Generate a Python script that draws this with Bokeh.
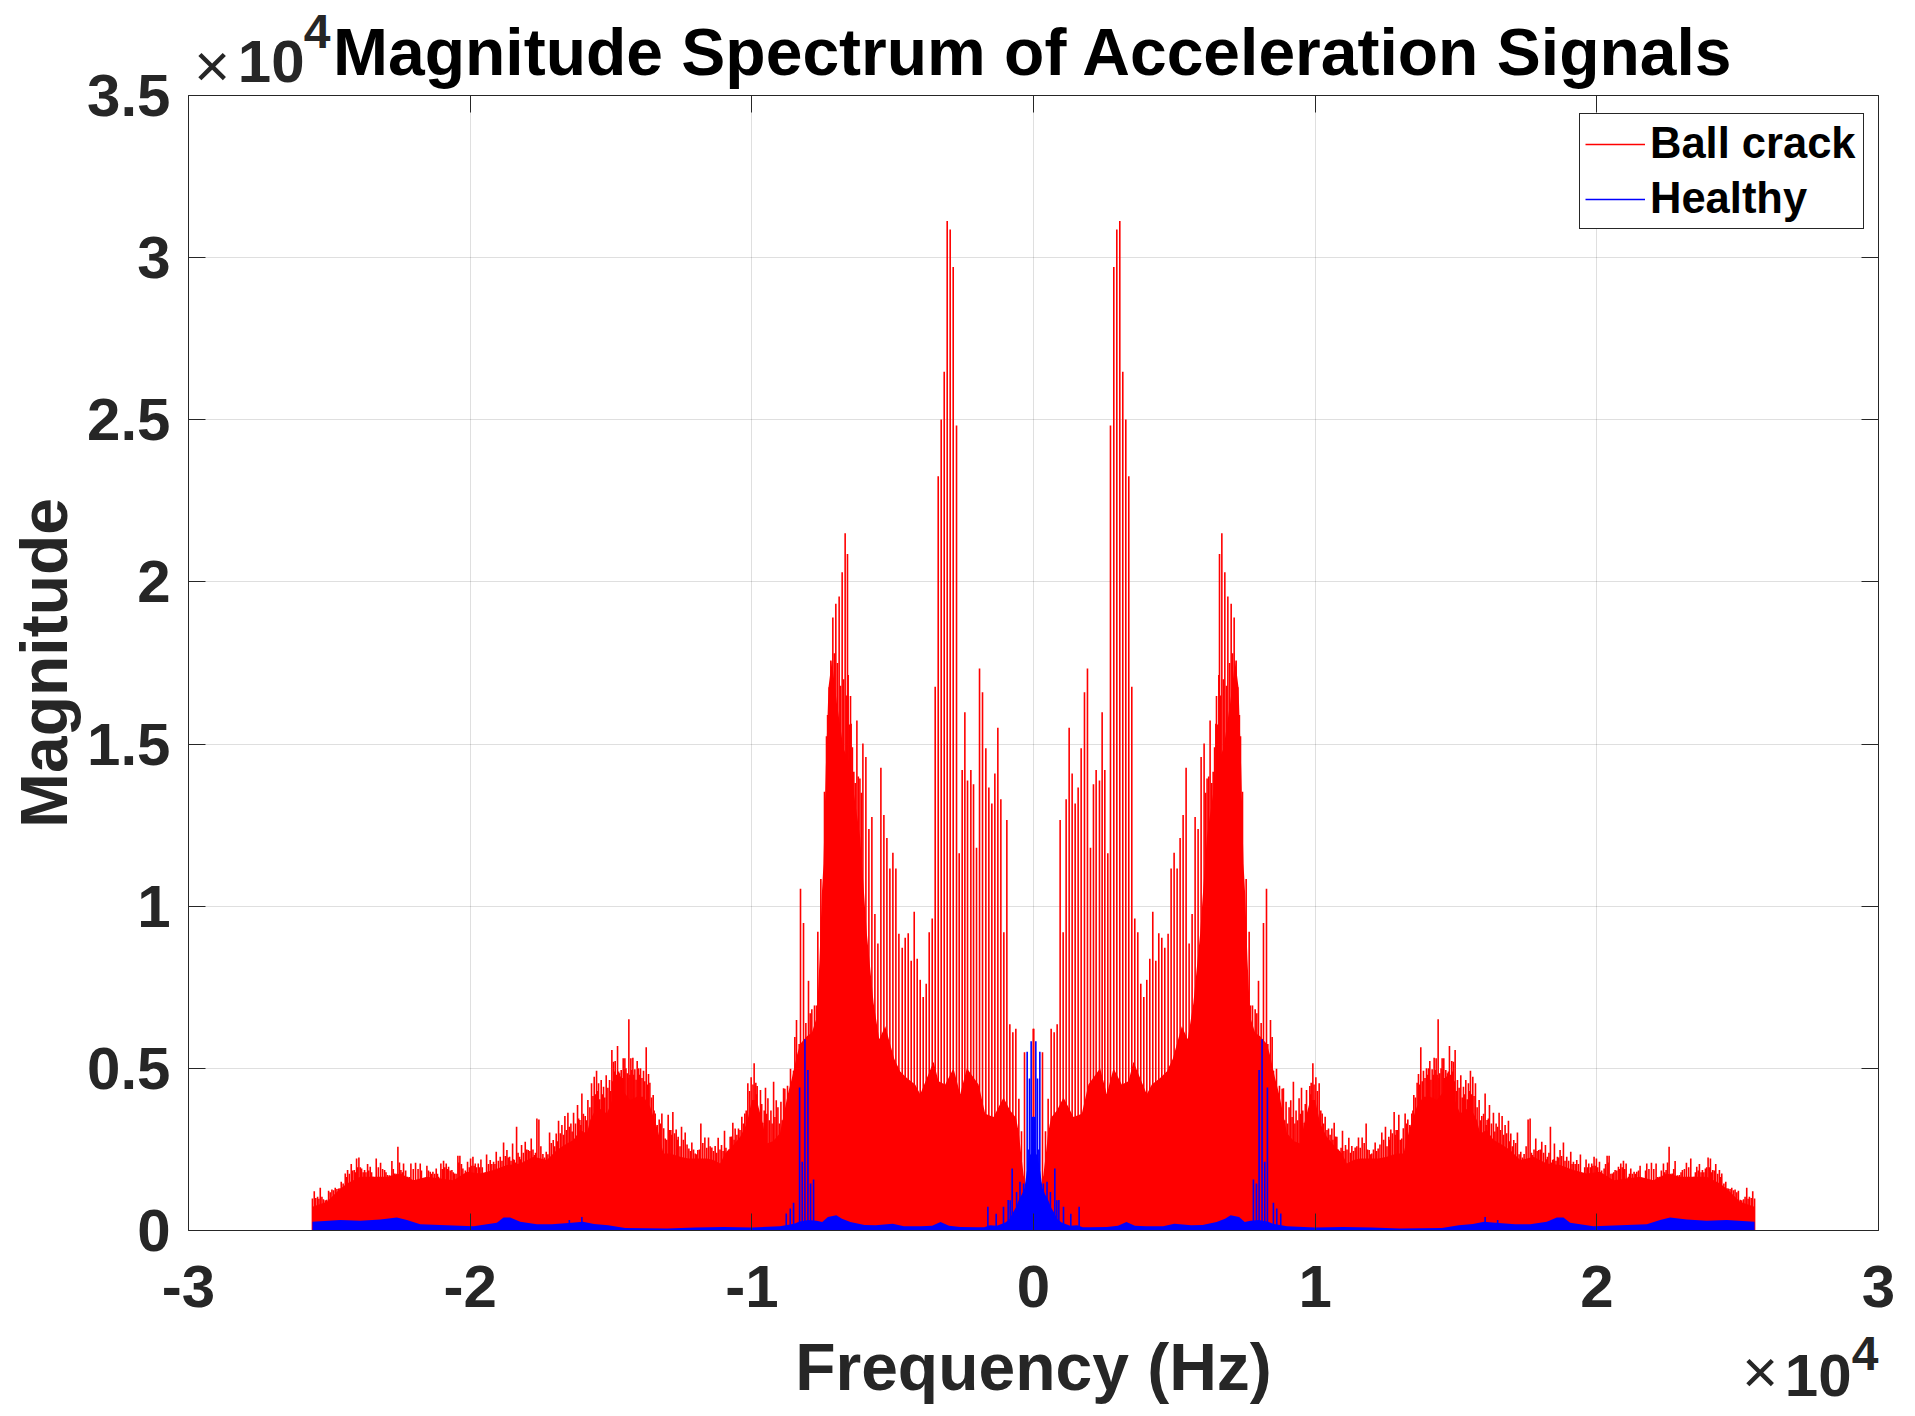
from bokeh.plotting import figure
from bokeh.embed import file_html
from bokeh.resources import INLINE
from bokeh.models import FixedTicker, Legend, LegendItem, LinearAxis, Title

ball_freq = [10, 319, 426, 520, 627, 733, 840, 946, 1053, 1159, 1266, 1372, 1479, 1585, 1692, 1810, 1916, 2023,
             2129, 2224, 2342, 2437, 2532, 2638, 2733, 2851, 2958, 3064, 3170, 3277, 3383, 3490, 3596, 3703, 3809,
             3916, 4022, 4129, 4235, 4342, 4448, 4555, 4661, 4779, 4886, 4992, 5099, 5205, 5312, 5418, 5525, 5631,
             5738, 5844, 5951, 6057, 6163, 6270, 6379, 6474, 6497, 6580, 6604, 6687, 6793, 6900, 7018, 7124, 7195,
             7254, 7349, 7420, 7550, 7657, 7704, 7775, 7870, 7929, 7988, 8082, 8165, 8272, 8319, 8414, 8473, 8520,
             8627, 8733, 8828, 8873, 8967, 9074, 9133, 9227, 9322, 9429,
             9515, 9610, 9693, 9811, 9858, 9918, 10024, 10142, 10249, 10355, 10474, 10592, 10675, 10769, 10864,
             10970, 11077, 11195, 11302, 11420, 11538, 11668, 11810, 11917, 12011, 12130, 12236, 12366, 12496,
             12615, 12686, 12804, 12875, 12970, 13076, 13194, 13289, 13431, 13502, 13620, 13668, 13750, 13845,
             13952, 14023, 14070, 14153, 14224, 14295, 14366, 14425, 14508, 14567, 14638, 14697, 14768, 14851,
             14910, 14969, 15052, 15170, 15265, 15348, 15442, 15513, 15596, 15691, 15821, 15915, 16034, 16105,
             16188, 16329, 16424, 16530, 16637, 16743, 16862, 16945, 17051, 17181, 17299, 17418, 17560, 17631,
             17714, 17832, 17938, 18045, 18175, 18246, 18352, 18435, 18494, 18601, 18695, 18814, 18932, 19074,
             19169, 19287, 19417, 19524, 19618, 19713, 19819, 19902, 19985, 20093, 20259, 20365, 20436, 20555,
             20649, 20767, 20850, 20945, 21040, 21122, 21205, 21323, 21418, 21536, 21678, 21773, 21939, 22104,
             22223, 22365, 22459, 22566, 22684, 22779, 22932, 23039, 23181, 23335, 23453, 23548, 23642, 23749,
             23855, 23950, 24033, 24115, 24222, 24352, 24435, 24577, 24671, 24790, 24908, 25026, 25145, 25263,
             25322, 25417, 25535, 25600]
ball_peak = [6220, 5500, 3060, 4066, 6220, 6110, 6360, 12660, 9200, 13300, 15500, 14090, 13170, 13660, 14870, 16600,
             17330, 11800, 13760, 14200, 13880, 15980, 14200, 11630, 24825, 29710, 30870, 31130, 26480, 25010,
             23260, 16770, 9620, 9200, 7610, 7200, 7730, 8380, 9830, 8320, 9170, 9030, 8720, 9150, 11160, 11650,
             11160, 12100, 12810, 14270, 8850, 9760, 12750, 12380, 14600, 15020, 13940, 15730, 14150, 15630, 16480,
             17130, 20860, 21500, 20300, 19550, 19330, 18900, 17580, 16750, 15240, 13530, 10840, 9210, 6940, 6940,
             6820, 6700, 7700, 6400, 9480, 10540, 5750, 6490, 5970, 4930, 4990, 4460, 4370, 4383, 3970, 3800, 4020,
             4590, 3700, 4075,
             4403, 3323, 4331, 4455, 4558, 5154, 4722, 4537, 3611, 3508, 3148, 3148, 3323, 2891, 2459, 3076, 2634,
             2860, 2603, 2562, 2870, 2870, 3302, 2479, 2376, 2716, 2531, 3025, 3200, 2891, 3117, 3652, 3097, 3570,
             2840, 3611, 3426, 3611, 4177, 4558, 4825, 5648, 4928, 5000, 5000, 5226, 4969, 5329, 5308, 6512, 4846,
             5308, 5308, 4949, 4846, 5689, 5226, 5205, 5566, 4640, 4784, 4434, 4640, 4537, 4928, 4743, 4537, 4022,
             3529, 4228, 3405, 3868, 3632, 3302, 3632, 3529, 3251, 3385, 2994, 2788, 3025, 2428, 2356, 3426, 3457,
             2325, 2839, 2479, 2737, 2634, 2274, 3200, 2171, 2685, 2274, 2479, 2716, 2274, 2428, 2119, 2171, 2346,
             1759, 2191, 2068, 2068, 2274, 2222, 2119, 1914, 2305, 2305, 1759, 1862, 1965, 2068, 2150, 2068, 1656,
             1914, 1811, 1811, 1996, 1451, 2068, 2088, 2068, 1656, 2068, 1862, 2582, 1759, 2140, 1708, 1862, 2088,
             2222, 1656, 1965, 2047, 1862, 1914, 2253, 2222, 1862, 2047, 1862, 1759, 1502, 1296, 1317, 1265, 1224,
             936, 1039, 1317, 1039, 1214, 988]

# shorter spikes packed between the tall ones
ball_fill_freq = [6110, 6220, 6330, 6430, 6540, 6640, 6740, 6850, 6960, 7070, 7170, 7310, 8920, 9020, 9180, 9280,
                  9380, 9470, 9560, 9650, 9750, 9840, 9960, 10080, 10200, 10300, 10420, 10530, 10630, 10720, 10820,
                  10920, 11020, 11130, 11250, 11360, 11480, 11600, 11740, 11860, 11960, 12070, 12180, 12300, 12430,
                  12550, 12650, 12740, 12840, 12920, 13020, 13130, 13240, 13360, 13470, 13560, 13710, 13800, 13900,
                  13990, 14110, 14190, 14260, 14330, 14400, 14470, 14540, 14600, 14670, 14730, 14810, 14880, 14940,
                  15010, 15110, 15220, 15300, 15400, 15480, 15550, 15640, 15750, 15870, 15980, 16070, 16150, 16260,
                  16380, 16480, 16580, 16690, 16800, 16900, 17000, 17120, 17240, 17360, 17490, 17680, 17770, 17880,
                  17990, 18110, 18210, 18300, 18400, 18460, 18550, 18650, 18750, 18870, 19000, 19120, 19230, 19350,
                  19470, 19570, 19670, 19770, 19860, 19940, 20030, 20170, 20310, 20400, 20500, 20600, 20710, 20810,
                  20900, 20990, 21080, 21160, 21260, 21370, 21480, 21600, 21730, 21850, 22020, 22160, 22290, 22410,
                  22510, 22630, 22730, 22860, 22990, 23110, 23260, 23400, 23500, 23600, 23700, 23800, 23900, 23990,
                  24080, 24170, 24290, 24400, 24510, 24620, 24730, 24850, 24970, 25090, 25210, 25370, 25480]
ball_fill_peak = [13500, 14000, 13800, 14900, 15600, 16500, 17000, 16800, 17500, 17800, 17000, 15900, 3400, 3300,
                  3500, 3300, 3400, 3600, 3700, 3900, 3600, 4200, 4500, 4300, 3700, 3300, 3100, 2950, 2800, 2900,
                  2500, 2550, 2450, 2500, 2400, 2450, 2600, 2550, 2700, 2500, 2350, 2500, 2450, 2650, 2800, 2600,
                  2800, 3000, 2950, 3100, 2800, 3150, 3300, 3250, 3700, 4100, 4500, 4600, 4700, 4800, 4650, 4800,
                  4950, 4800, 4700, 5000, 4900, 4700, 4750, 4900, 4800, 4900, 4600, 4300, 4400, 4100, 4200, 4050,
                  4300, 4200, 4150, 3800, 3400, 3600, 3250, 3450, 3300, 3050, 3200, 3100, 2950, 3000, 2750, 2600,
                  2700, 2350, 2250, 2600, 2400, 2500, 2450, 2500, 2400, 2200, 2400, 2100, 2200, 2150, 2250, 2300,
                  2150, 2150, 2050, 2050, 2050, 1750, 1950, 1950, 1950, 2000, 2000, 1950, 1850, 2050, 2100, 1750,
                  1800, 1850, 1900, 1950, 1900, 1600, 1750, 1750, 1750, 1850, 1500, 1850, 1900, 1900, 1650, 1850,
                  1800, 2100, 1750, 1900, 1700, 1800, 1900, 1950, 1650, 1800, 1850, 1800, 1800, 1950, 1950, 1800,
                  1850, 1750, 1650, 1450, 1300, 1280, 1240, 1180, 950, 960, 980, 1000]

# top of the solid red part, below the spikes
ball_body_freq = [0, 120, 250, 350, 430, 520, 620, 830, 1065, 1420, 1715, 1950, 2366, 2603, 2840, 3135, 3372, 3549,
                  4022, 4200, 4495, 4732, 4945, 5264, 5477, 5678, 5918, 6154, 6390, 6568, 6746, 6982, 7160, 7278,
                  7373, 7456, 7515, 7597, 7692, 7870, 8047, 8284, 8402, 8580, 8733, 9000, 9250, 9468, 9586, 9823,
                  10000, 10178, 10414, 10710, 10947, 11124, 11361, 11597, 11952, 12248, 12544, 12899, 13135, 13372,
                  13608, 13845, 14082, 14318, 14555, 14910, 15146, 15501, 15738, 15858, 16095, 16331, 16568, 16923,
                  17278, 17751, 18224, 18697, 19170, 19644, 20117, 20590, 21063, 21536, 22010, 22483, 22956, 23429,
                  23902, 24376, 24671, 25085, 25600]
ball_body = [1700, 1500, 1300, 1700, 2300, 3000, 3480, 3700, 4100, 3500, 3600, 4500, 5000, 4200, 5000, 4500, 4600,
             5200, 4200, 4500, 4700, 4900, 5300, 6300, 5900, 7020, 9170, 12130, 13560, 14500, 14860, 16270, 17580,
             16750, 14270, 11310, 10370, 8350, 6580, 6100, 5990, 5750, 5400, 4690, 4160, 3000, 2750, 2685, 3200,
             4023, 4023, 3302, 2891, 2582, 2376, 2068, 2171, 2222, 2222, 2222, 2274, 2376, 2376, 3200, 3817, 4125,
             4125, 4023, 4280, 4125, 3611, 3817, 3405, 2994, 3097, 2788, 2685, 2479, 2171, 2274, 2068, 2016, 1862,
             1759, 1811, 1553, 1605, 1656, 1553, 1759, 1656, 1656, 1656, 1450, 1245, 885, 730]

healthy_freq = [1, 40, 83, 142, 190, 225, 350, 480, 600, 757, 828, 900, 1065, 1325, 1620, 7808, 7914, 8009, 8115,
                8210, 8305, 8518, 8636, 8778, 16034, 16480]
healthy_peak = [3508, 3500, 5833, 4691, 2500, 5514, 1450, 1500, 1190, 1913, 936, 940, 730, 520, 730, 1574, 1450,
                4948, 5895, 2119, 4413, 853, 679, 524, 420, 320]

healthy_body_freq = [0, 60, 150, 250, 320, 420, 520, 620, 720, 850, 1000, 1300, 1550, 1750, 2000, 2600, 3000, 3300,
                     3600, 4000, 4600, 5000, 5600, 6000, 6500, 6800, 7000, 7300, 7500, 7700, 8000, 8300, 8500, 9000,
                     10000, 11000, 12000, 13000, 14500, 15100, 15600, 16000, 16400, 17100, 17632, 18224, 18579,
                     18815, 19052, 19880, 20827, 21773, 22246, 22601, 23193, 23902, 24612, 25600]
healthy_body = [2400, 2400, 2300, 1750, 1300, 1100, 950, 720, 570, 350, 250, 150, 160, 100, 100, 110, 150, 260, 150,
                130, 130, 210, 160, 170, 260, 360, 470, 420, 260, 300, 320, 280, 210, 130, 90, 110, 90, 60, 80, 160,
                200, 270, 240, 190, 195, 270, 400, 400, 240, 130, 165, 195, 320, 400, 340, 300, 320, 270]

x_ticks = [-30000, -20000, -10000, 0, 10000, 20000, 30000]
x_tick_labels = ["-3", "-2", "-1", "0", "1", "2", "3"]
y_ticks = [0, 5000, 10000, 15000, 20000, 25000, 30000, 35000]
y_tick_labels = ["0", "0.5", "1", "1.5", "2", "2.5", "3", "3.5"]

FONT = "Liberation Sans"
DARK = "#262626"


def mirrored(freq, vals):
    return [-f for f in reversed(freq)] + list(freq), list(reversed(vals)) + list(vals)


p = figure(width=1899, height=1408, x_range=(-30000, 30000), y_range=(0, 35000), title_location=None,
           output_backend="svg", toolbar_location=None, x_axis_label="Frequency (Hz)", y_axis_label="Magnitude",
           min_border_left=188, min_border_right=21, min_border_top=95, min_border_bottom=178)
p.outline_line_color = None
p.background_fill_color = "white"

bx, by = mirrored(ball_freq, ball_peak)
fx, fy = mirrored(ball_fill_freq, ball_fill_peak)
bbx, bby = mirrored(ball_body_freq, ball_body)
hx, hy = mirrored(healthy_freq, healthy_peak)
hbx, hby = mirrored(healthy_body_freq, healthy_body)

ball = p.segment(bx, [0] * len(bx), bx, by, line_color="#ff0000", line_width=1.6)
p.segment(fx, [0] * len(fx), fx, fy, line_color="#ff0000", line_width=1.6)
p.varea(bbx, [0] * len(bbx), bby, fill_color="#ff0000")
healthy = p.segment(hx, [0] * len(hx), hx, hy, line_color="#0000ff", line_width=1.6)
p.varea(hbx, [0] * len(hbx), hby, fill_color="#0000ff")


def style_axis(ax, ticks, overrides):
    ax.ticker = FixedTicker(ticks=ticks)
    ax.major_label_overrides = overrides
    ax.major_tick_in = 17
    ax.major_tick_out = 0
    ax.minor_tick_in = 0
    ax.minor_tick_out = 0
    ax.axis_line_color = DARK
    ax.major_tick_line_color = DARK
    ax.major_label_text_font = FONT
    ax.major_label_text_font_size = "60px"
    ax.major_label_text_font_style = "bold"
    ax.major_label_text_color = DARK
    ax.axis_label_text_font = FONT
    ax.axis_label_text_font_size = "66px"
    ax.axis_label_text_font_style = "bold"
    ax.axis_label_text_color = DARK


style_axis(p.xaxis[0], x_ticks, dict(zip(x_ticks, x_tick_labels)))
style_axis(p.yaxis[0], y_ticks, dict(zip(y_ticks, y_tick_labels)))
p.xaxis[0].major_label_standoff = 35
p.yaxis[0].major_label_standoff = 18
p.yaxis[0].major_label_orientation = "horizontal"
p.xaxis[0].axis_label_standoff = 20
p.yaxis[0].axis_label_standoff = 3

top = LinearAxis()
style_axis(top, x_ticks, {t: "" for t in x_ticks})
top.major_label_text_font_size = "1px"
top.major_label_standoff = 0
p.add_layout(top, "above")
right = LinearAxis()
style_axis(right, y_ticks, {t: "" for t in y_ticks})
right.major_label_text_font_size = "1px"
right.major_label_standoff = 0
p.add_layout(right, "right")

title = Title(text="Magnitude Spectrum of Acceleration Signals", align="center", text_font=FONT,
              text_font_size="66px", text_font_style="bold", text_color="black", standoff=14)
p.add_layout(title, "above")

p.grid.grid_line_color = DARK
p.grid.grid_line_alpha = 0.15
p.xgrid.ticker = FixedTicker(ticks=x_ticks)
p.ygrid.ticker = FixedTicker(ticks=y_ticks)

legend = Legend(items=[LegendItem(label="Ball crack", renderers=[ball]),
                       LegendItem(label="Healthy", renderers=[healthy])],
                location=(1391, 1001), margin=0, padding=5, spacing=6, glyph_width=60, glyph_height=40,
                label_standoff=5, label_width=208, label_text_font=FONT, label_text_font_size="43.5px",
                label_text_font_style="bold", label_text_color="black",
                border_line_color=DARK, border_line_width=1, border_line_alpha=1, background_fill_alpha=1)
p.add_layout(legend)


def scale_text(side, px, text, size, standoff, bold=True):
    # the "x10^4" pieces live outside the frame, so each one is the single tick label of a bare axis;
    # a negative standoff pulls it back over the row next to it
    f = round((px - 1033.3) * 60000 / 1690)
    ax = LinearAxis(ticker=FixedTicker(ticks=[f]), major_label_overrides={f: text})
    ax.axis_line_color = None
    ax.major_tick_line_color = None
    ax.minor_tick_line_color = None
    ax.major_tick_in = 0
    ax.major_tick_out = 0
    ax.minor_tick_in = 0
    ax.minor_tick_out = 0
    ax.major_label_standoff = standoff
    ax.major_label_text_font = FONT
    ax.major_label_text_font_size = size
    ax.major_label_text_font_style = "bold" if bold else "normal"
    ax.major_label_text_color = DARK
    p.add_layout(ax, side)


# the scale factors matlab prints beside the axes
scale_text("above", 212, "×", "62px", -94, bold=False)
scale_text("above", 271, "10", "60px", -76)
scale_text("above", 317, "4", "48px", -42)
scale_text("below", 1818, "10", "60px", -52)
scale_text("below", 1760, "×", "62px", -70, bold=False)
scale_text("below", 1865, "4", "48px", -72)

open("out.html", "w").write(file_html(p, INLINE))
